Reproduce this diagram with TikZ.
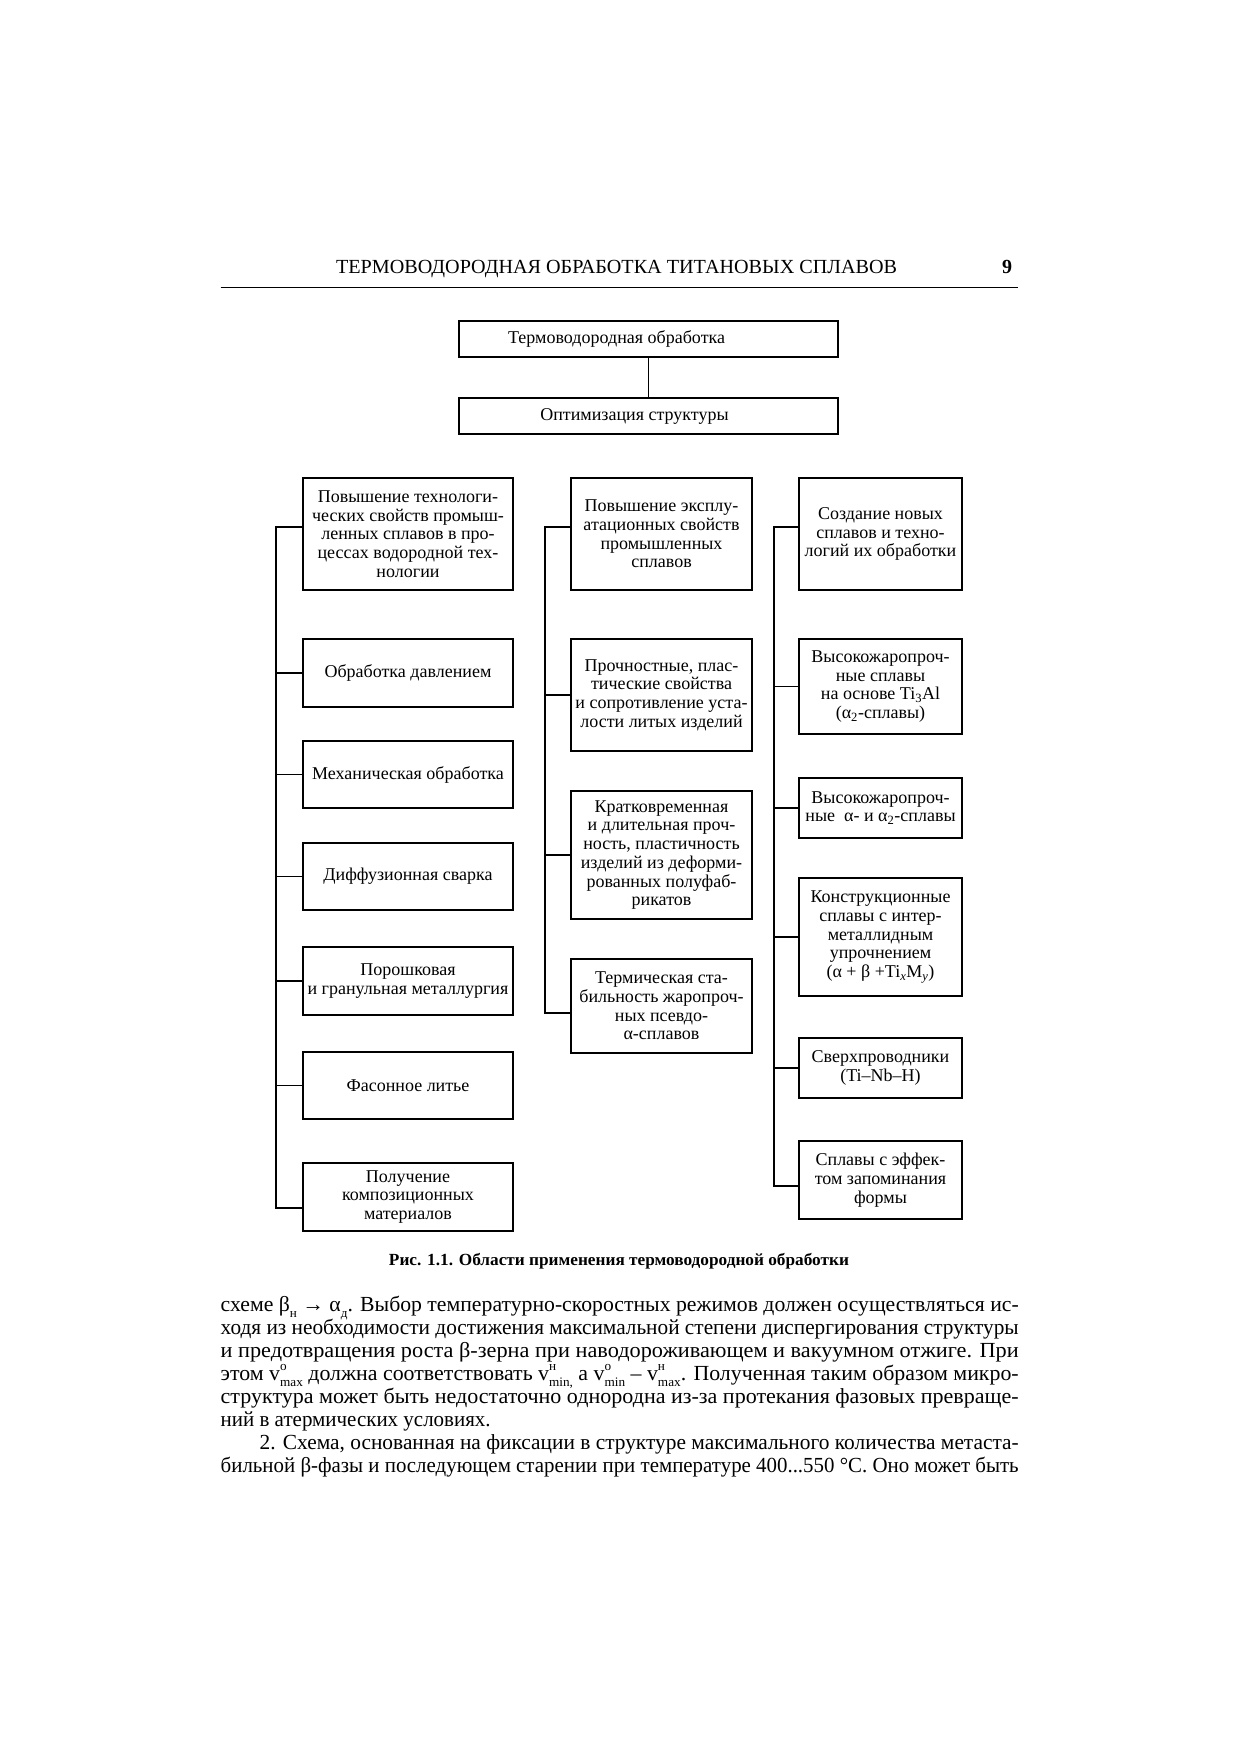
\documentclass[tikz,border=0pt]{standalone}
\usepackage{fontspec}
\setmainfont{Liberation Serif}
\usepackage{graphicx}
\newcommand\bodyf{\fontsize{21.5}{22.9}\selectfont}
\newcommand\boxf{\fontsize{18}{18.7}\selectfont}
\newcommand\tinyf{\fontsize{13}{13}\selectfont}
\newcommand\vv[2]{v\rlap{\raisebox{0.45em}{\tinyf #1}}\raisebox{-0.3em}{\tinyf #2}}
\newcommand\lo[1]{\raisebox{-0.3em}{\tinyf #1}}
\newcommand\fitw[2]{\resizebox{#1}{\height}{#2}}
\begin{document}
\begin{tikzpicture}[x=1pt,y=-1pt,
  frame/.style={draw,line width=1.1pt,inner sep=0pt,align=center,font=\boxf},
  colA/.style={frame,minimum width=210pt},
  colB/.style={frame,minimum width=181pt},
  colC/.style={frame,minimum width=163pt},
  topbox/.style={frame,minimum width=379pt,minimum height=36pt},
  link/.style={line width=1.1pt},
  line/.style={anchor=base west,inner sep=0pt,font=\bodyf}]
\useasboundingbox[fill=white] (0,0) rectangle (1240,1755);

% header
\node[anchor=base,inner sep=0pt] (head) at (616.6,273.5)
  {\fontsize{20}{20}\selectfont\fitw{561pt}{ТЕРМОВОДОРОДНАЯ ОБРАБОТКА ТИТАНОВЫХ СПЛАВОВ}};
\node[anchor=base,inner sep=0pt] (pnum) at (1007,273.5) {\fontsize{20}{20}\selectfont\bfseries 9};
\coordinate (ruleL) at (220.5,287.6);
\coordinate (ruleR) at (1018.4,287.6);
\draw[line width=1.2pt] (ruleL) -- (ruleR);

% top boxes
\node[topbox] (tvo) at (648.5,339) {};
\node[inner sep=0pt,font=\boxf] (tvot) at (616.6,339) {Термоводородная обработка};
\node[topbox] (opt) at (648.5,416) {};
\node[inner sep=0pt,font=\boxf] (optt) at (634.5,416) {Оптимизация структуры};
\draw[link] (tvo.south) -- (opt.north);

% column 1
\node[colA,minimum height=112pt] (A1) at (408,534) {Повышение технологи-\\ческих свойств промыш-\\ленных сплавов в про-\\цессах водородной тех-\\нологии};
\node[colA,minimum height=68pt] (A2) at (408,673) {Обработка давлением};
\node[colA,minimum height=67pt] (A3) at (408,774.5) {Механическая обработка};
\node[colA,minimum height=67pt] (A4) at (408,876.5) {Диффузионная сварка};
\node[colA,minimum height=68pt] (A5) at (408,981) {Порошковая\\и гранульная металлургия};
\node[colA,minimum height=67pt] (A6) at (408,1085.5) {Фасонное литье};
\node[colA,minimum height=68pt] (A7) at (408,1197) {Получение\\композиционных\\материалов};

% column 2
\node[colB,minimum height=112pt] (B1) at (661.5,534) {Повышение эксплу-\\атационных свойств\\промышленных\\сплавов};
\node[colB,minimum height=112pt] (B2) at (661.5,695) {Прочностные, плас-\\тические свойства\\и сопротивление уста-\\лости литых изделий};
\node[colB,minimum height=128pt] (B3) at (661.5,855) {Кратковременная\\и длительная проч-\\ность, пластичность\\изделий из деформи-\\рованных полуфаб-\\рикатов};
\node[colB,minimum height=94pt] (B4) at (661.5,1006) {Термическая ста-\\бильность жаропроч-\\ных псевдо-\\α-сплавов};

% column 3
\node[colC,minimum height=112pt] (C1) at (880.5,534) {Создание новых\\сплавов и техно-\\логий их обработки};
\node[colC,minimum height=95pt] (C2) at (880.5,686.5) {Высокожаропроч-\\ные сплавы\\на основе Ti\textsubscript{3}Al\\(α\textsubscript{2}-сплавы)};
\node[colC,minimum height=60pt] (C3) at (880.5,808) {Высокожаропроч-\\ные\ \ α- и α\textsubscript{2}-сплавы};
\node[colC,minimum height=118pt] (C4) at (880.5,937) {Конструкционные\\сплавы с интер-\\металлидным\\упрочнением\\(α + β +Ti\textsubscript{\textit{x}}M\textsubscript{\textit{y}})};
\node[colC,minimum height=60pt] (C5) at (880.5,1068) {Сверхпроводники\\(Ti–Nb–H)};
\node[colC,minimum height=78pt] (C6) at (880.5,1180) {Сплавы с эффек-\\том запоминания\\формы};

% brackets
\coordinate (busA) at (276,0);
\coordinate (busB) at (545,0);
\coordinate (busC) at (774,0);
\draw[link] ([yshift=7pt]A1.west) -- ([yshift=7pt]A1.west -| busA) -- ([yshift=-11pt]A7.west -| busA) -- ([yshift=-11pt]A7.west);
\foreach \n in {A2,A3,A4,A5,A6} \draw[link] (\n.west) -- (\n.west -| busA);
\draw[link] ([yshift=7pt]B1.west) -- ([yshift=7pt]B1.west -| busB) -- ([yshift=-7pt]B4.west -| busB) -- ([yshift=-7pt]B4.west);
\foreach \n in {B2,B3} \draw[link] (\n.west) -- (\n.west -| busB);
\draw[link] ([yshift=7pt]C1.west) -- ([yshift=7pt]C1.west -| busC) -- ([yshift=-6pt]C6.west -| busC) -- ([yshift=-6pt]C6.west);
\foreach \n in {C2,C3,C4,C5} \draw[link] (\n.west) -- (\n.west -| busC);

% caption
\node[anchor=base,inner sep=0pt] (cap) at (619,1265)
  {\fontsize{17}{17}\selectfont\bfseries\fitw{460pt}{Рис. 1.1. Области применения термоводородной обработки}};

% body text
\node[line] (l1) at (220.5,1311) {\fitw{798pt}{схеме β\lo{н} → α\lo{д}. Выбор температурно-скоростных режимов должен осуществляться ис-}};
\node[line] (l2) at (220.5,1334) {\fitw{798pt}{ходя из необходимости достижения максимальной степени диспергирования структуры}};
\node[line] (l3) at (220.5,1357) {\fitw{798pt}{и предотвращения роста β-зерна при наводороживающем и вакуумном отжиге. При}};
\node[line] (l4) at (220.5,1380) {\fitw{798pt}{этом \vv{о}{max} должна соответствовать \vv{н}{min,} а \vv{о}{min} – \vv{н}{max}. Полученная таким образом микро-}};
\node[line] (l5) at (220.5,1403) {\fitw{798pt}{структура может быть недостаточно однородна из-за протекания фазовых превраще-}};
\node[line] (l6) at (220.5,1426) {\fitw{270pt}{ний в атермических условиях.}};
\node[line] (l7) at (259.5,1449) {\fitw{759pt}{2. Схема, основанная на фиксации в структуре максимального количества метаста-}};
\node[line] (l8) at (220.5,1472) {\fitw{798pt}{бильной β-фазы и последующем старении при температуре 400...550 °C. Оно может быть}};
\end{tikzpicture}
\end{document}
